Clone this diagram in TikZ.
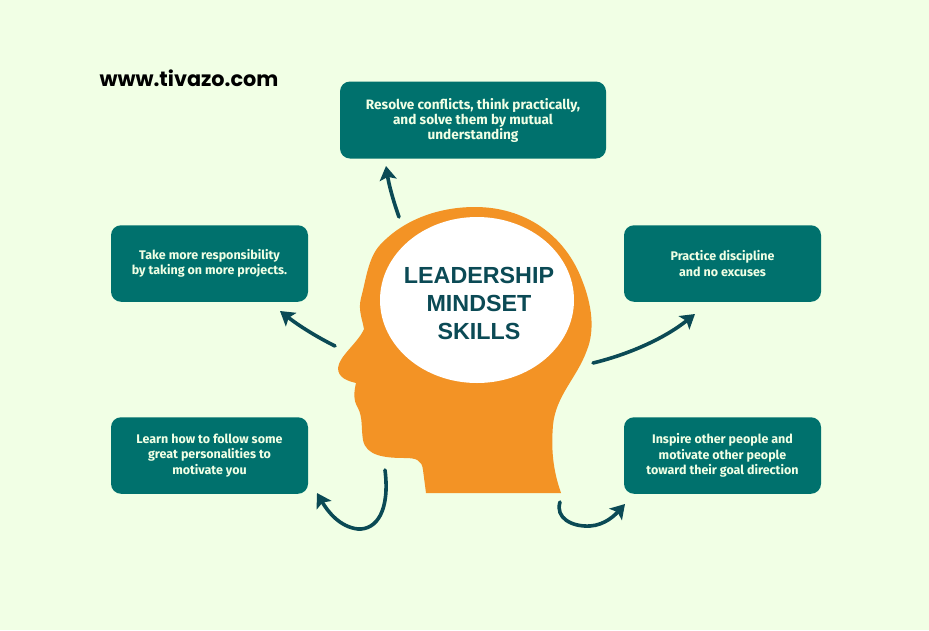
\documentclass[tikz,border=0pt]{standalone}
\usepackage{fontspec}
\setmainfont{Fira Sans}
\newfontfamily\titlefont{Liberation Sans}
\newfontfamily\urlfont{Poppins}
\usetikzlibrary{arrows.meta,shapes.geometric}

\definecolor{paper}{HTML}{F1FFE5}
\definecolor{teal1}{HTML}{00716D}
\definecolor{ink}{HTML}{0B4A55}
\definecolor{skin}{HTML}{F39325}

\tikzset{
  skill/.style={fill=teal1,rounded corners=10pt,anchor=center,align=center,text=paper,
    font=\fontsize{12.5}{15.5}\selectfont\bfseries,inner sep=0pt},
  wide/.style={minimum width=197pt,minimum height=76.5pt},
  link/.style={ink,line width=3.6pt,line cap=round,-{Stealth[length=14pt,width=17pt,inset=3pt]}}
}

\begin{document}
\begin{tikzpicture}[x=1pt,y=-1pt]
\useasboundingbox[fill=paper] (0,0) rectangle (929,630);
\node[anchor=center,font=\urlfont\fontsize{20.8}{24}\selectfont\bfseries,text=black,inner sep=0pt] (url) at (189,78) {www.tivazo.com};

% head
\fill[skin] (426,493) -- (423,470) .. controls (422,460) and (416,458) .. (405,458)
  .. controls (385,458) and (366,456) .. (363,440) .. controls (361,428) and (363,418) .. (358,408)
  .. controls (353,400) and (354,392) .. (356,383) .. controls (348,381) and (338,378) .. (338,368)
  .. controls (339,356) and (358,343) .. (364,329) .. controls (362,318) and (358,310) .. (361,298)
  .. controls (366,280) and (368,258) .. (380,245) .. controls (403,220) and (438,207) .. (475,207)
  .. controls (525,207) and (565,235) .. (582,280) .. controls (592,305) and (595,330) .. (587,350)
  .. controls (577,378) and (556,395) .. (553,425) .. controls (551,450) and (553,470) .. (561,493) -- cycle;
\node[fill=white,ellipse,minimum width=194pt,minimum height=166pt,inner sep=0pt] (brain) at (477,300) {};
\node[font=\titlefont\fontsize{23.3}{28}\selectfont\bfseries,text=ink,align=center,inner sep=0pt] (title) at (479,303.5) {LEADERSHIP\\MINDSET\\SKILLS};

% boxes
\node[skill,minimum width=266pt,minimum height=77pt,font=\fontsize{13.6}{15}\selectfont\bfseries] (conflict) at (473,120) {Resolve conflicts, think practically,\\and solve them by mutual\\understanding};
\node[skill,wide] (project) at (209.5,263.5) {Take more responsibility\\by taking on more projects.};
\node[skill,wide] (discipline) at (722.5,263.5) {Practice discipline\\and no excuses};
\node[skill,wide] (follow) at (209.5,455.5) {Learn how to follow some\\great personalities to\\motivate you};
\node[skill,wide] (inspire) at (722.5,455.5) {Inspire other people and\\motivate other people\\toward their goal direction};

% loose ends of the arrows
\coordinate (a1) at (399,217);
\coordinate (t1) at (386,166);
\coordinate (a2) at (335,346);
\coordinate (t2) at (280,311);
\coordinate (a3) at (593,363);
\coordinate (t3) at (695,314);
\coordinate (a4) at (385,470);
\coordinate (t4) at (317,493);
\coordinate (a5) at (560,502);
\coordinate (t5) at (625,504);

\draw[link] (a1) .. controls (393,200) and (389,185) .. (t1);
\draw[link] (a2) .. controls (315,336) and (298,325) .. (t2);
\draw[link] (a3) .. controls (630,354) and (665,338) .. (t3);
\draw[link] (a4) .. controls (390,510) and (377,530) .. (358,529) .. controls (340,527) and (328,512) .. (t4);
\draw[link] (a5) .. controls (555,518) and (572,527) .. (590,526) .. controls (605,525) and (615,515) .. (t5);
\end{tikzpicture}
\end{document}
